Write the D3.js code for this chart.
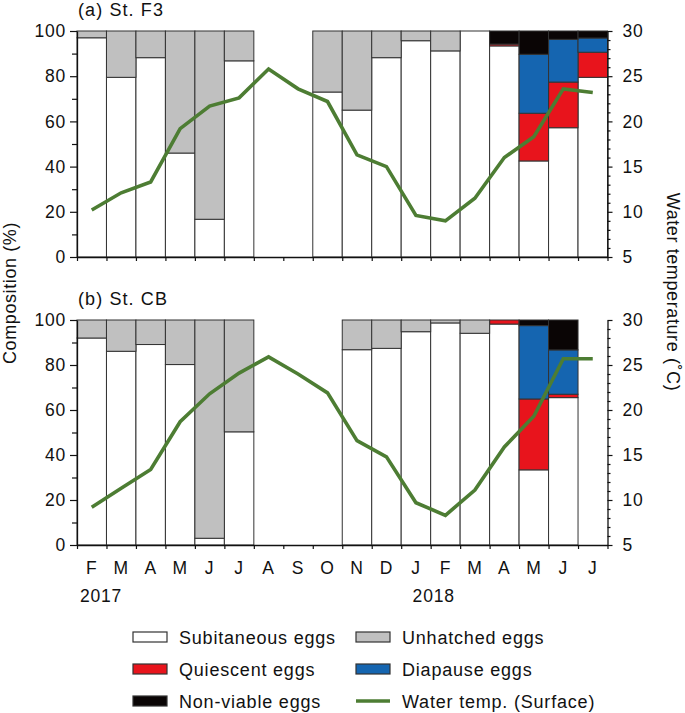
<!DOCTYPE html>
<html>
<head>
<meta charset="utf-8">
<script src="https://cdn.jsdelivr.net/npm/d3@7"></script>
<style>
  html, body { margin: 0; padding: 0; background: #fff; }
  svg text { font-family: "Liberation Sans", Arial, Helvetica, sans-serif; fill: #111; }
</style>
</head>
<body>
<svg id="chart" width="685" height="713"></svg>
<script>
// ---------- data ----------
const months = ["F","M","A","M","J","J","A","S","O","N","D","J","F","M","A","M","J","J"];
const years = ["2017", "2018"];
const seriesKeys = ["subitaneous", "quiescent", "diapause", "nonviable", "unhatched"];
const seriesNames = {
  subitaneous: "Subitaneous eggs", unhatched: "Unhatched eggs",
  quiescent: "Quiescent eggs", diapause: "Diapause eggs",
  nonviable: "Non-viable eggs"
};
const panelTitles = ["(a) St. F3", "(b) St. CB"];

// (a) St. F3  (null = no sample)
const f3Subitaneous = [97.0, 79.5, 88.2, 46.0, 16.7, 86.8, null, null, 73.0, 65.0, 88.2, 95.7, 91.2, 100, 93.4, 42.5, 57.2, 79.5];
const f3Quiescent   = [0, 0, 0, 0, 0, 0, null, null, 0, 0, 0, 0, 0, 0, 0.8, 21.1, 20.2, 11.1];
const f3Diapause    = [0, 0, 0, 0, 0, 0, null, null, 0, 0, 0, 0, 0, 0, 0, 26.1, 18.9, 6.3];
const f3NonViable   = [0, 0, 0, 0, 0, 0, null, null, 0, 0, 0, 0, 0, 0, 5.8, 10.3, 3.7, 3.1];
const f3Unhatched   = [3.0, 20.5, 11.8, 54.0, 83.3, 13.2, null, null, 27.0, 35.0, 11.8, 4.3, 8.8, 0, 0, 0, 0, 0];
const f3Temp = [10.2, 12.1, 13.3, 19.2, 21.7, 22.6, 25.8, 23.6, 22.2, 16.3, 15.0, 9.6, 9.0, 11.5, 16.0, 18.3, 23.6, 23.2];

// (b) St. CB
const cbSubitaneous = [92.0, 86.1, 89.1, 80.2, 3.0, 50.3, null, null, null, 86.8, 87.4, 94.8, 98.7, 94.1, 98.2, 33.4, 65.5, null];
const cbQuiescent   = [0, 0, 0, 0, 0, 0, null, null, null, 0, 0, 0, 0, 0, 1.8, 31.5, 1.5, null];
const cbDiapause    = [0, 0, 0, 0, 0, 0, null, null, null, 0, 0, 0, 0, 0, 0, 32.6, 19.7, null];
const cbNonViable   = [0, 0, 0, 0, 0, 0, null, null, null, 0, 0, 0, 0, 0, 0, 2.5, 13.3, null];
const cbUnhatched   = [8.0, 13.9, 10.9, 19.8, 97.0, 49.7, null, null, null, 13.2, 12.6, 5.2, 1.3, 5.9, 0, 0, 0, null];
const cbTemp = [9.2, 11.3, 13.4, 18.7, 21.8, 24.1, 25.9, 24.0, 21.9, 16.6, 14.8, 9.7, 8.3, 11.1, 15.9, 19.3, 25.7, 25.7];

const pctTicks = [0, 20, 40, 60, 80, 100];
const tempTicks = [5, 10, 15, 20, 25, 30];

// ---------- styles ----------
const colors = {
  subitaneous: "#ffffff", unhatched: "#c0c0c0", quiescent: "#e8141c",
  diapause: "#1565b0", nonviable: "#0a0505"
};
const lineColor = "#4d7d33";
const FONT = 17.5, LS = "0.8px";

const svg = d3.select("#chart");
const left = 77, right = 607.5;

const x = d3.scaleBand().domain(d3.range(months.length)).range([left, right]).padding(0);
const xEdge = d3.scaleLinear().domain([0, months.length]).range([left, right]);

function buildRows(sub, qui, dia, nv, unh) {
  return months.map((m, i) => ({
    i, present: sub[i] !== null,
    subitaneous: sub[i] || 0, quiescent: qui[i] || 0, diapause: dia[i] || 0,
    nonviable: nv[i] || 0, unhatched: unh[i] || 0
  }));
}

const panels = [
  { title: panelTitles[0], top: 31, bottom: 257,
    rows: buildRows(f3Subitaneous, f3Quiescent, f3Diapause, f3NonViable, f3Unhatched), temp: f3Temp, labels: false },
  { title: panelTitles[1], top: 320, bottom: 545,
    rows: buildRows(cbSubitaneous, cbQuiescent, cbDiapause, cbNonViable, cbUnhatched), temp: cbTemp, labels: true }
];

panels.forEach(p => {
  const y = d3.scaleLinear().domain([0, 100]).range([p.bottom, p.top]);
  const t = d3.scaleLinear().domain([5, 30]).range([p.bottom, p.top]);
  const g = svg.append("g");

  // bars
  const stacked = d3.stack().keys(seriesKeys)(p.rows.filter(r => r.present));
  stacked.forEach(layer => {
    g.append("g").selectAll("rect")
      .data(layer.filter(d => d[1] - d[0] > 0))
      .join("rect")
      .attr("x", d => x(d.data.i))
      .attr("width", x.bandwidth())
      .attr("y", d => y(d[1]))
      .attr("height", d => y(d[0]) - y(d[1]))
      .attr("fill", colors[layer.key])
      .attr("stroke", "#333")
      .attr("stroke-width", 1);
  });

  // left axis
  g.append("g").attr("transform", `translate(${left},0)`)
    .call(d3.axisLeft(y).tickValues(pctTicks).tickSize(7).tickSizeOuter(0).tickPadding(4));
  g.append("g").attr("transform", `translate(${left},0)`)
    .call(d3.axisLeft(y).tickValues(d3.range(10, 100, 20)).tickSize(5).tickFormat("").tickSizeOuter(0))
    .select(".domain").remove();

  // right axis
  g.append("g").attr("transform", `translate(${right},0)`)
    .call(d3.axisRight(t).tickValues(tempTicks).tickSize(5).tickSizeOuter(0).tickPadding(10));
  g.append("g").attr("transform", `translate(${right},0)`)
    .call(d3.axisRight(t).tickValues(d3.range(5, 31, 1).filter(v => v % 5 !== 0)).tickSize(3).tickFormat("").tickSizeOuter(0))
    .select(".domain").remove();

  // bottom axis (ticks at month boundaries)
  g.append("g").attr("transform", `translate(0,${p.bottom})`)
    .call(d3.axisBottom(xEdge).tickValues(d3.range(0, months.length + 1)).tickSize(4).tickFormat("").tickSizeOuter(0));

  g.selectAll(".domain").attr("stroke", "#111").attr("stroke-width", 1.3);
  g.selectAll(".tick line").attr("stroke", "#111").attr("stroke-width", 1.2);
  g.selectAll(".tick text").attr("font-size", FONT).style("letter-spacing", LS)
    .attr("font-family", "Liberation Sans, Arial, sans-serif").attr("fill", "#111");

  // temperature line
  g.append("path")
    .datum(p.temp)
    .attr("fill", "none")
    .attr("stroke", lineColor)
    .attr("stroke-width", 3.6)
    .attr("stroke-linejoin", "miter")
    .attr("d", d3.line().x((d, i) => x(i) + x.bandwidth() / 2).y(d => t(d)));

  // panel title
  g.append("text").attr("x", 78).attr("y", p.top - 15)
    .attr("font-size", 18).style("letter-spacing", "1.1px").text(p.title);

  if (p.labels) {
    g.append("g").attr("transform", `translate(0,${p.bottom})`)
      .call(d3.axisBottom(x).tickSize(0).tickPadding(17).tickFormat(i => months[i]))
      .call(a => a.select(".domain").remove())
      .selectAll("text").attr("font-size", FONT).style("letter-spacing", LS)
      .attr("font-family", "Liberation Sans, Arial, sans-serif").attr("fill", "#111");
    g.append("text").attr("x", xEdge(0) + 3).attr("y", p.bottom + 57)
      .attr("font-size", FONT).style("letter-spacing", LS).text(years[0]);
    g.append("text").attr("x", xEdge(12) + 3).attr("y", p.bottom + 57)
      .attr("text-anchor", "middle")
      .attr("font-size", FONT).style("letter-spacing", LS).text(years[1]);
  }
});

// axis titles
svg.append("text")
  .attr("transform", "translate(16,293) rotate(-90)")
  .attr("text-anchor", "middle")
  .attr("font-size", 18).style("letter-spacing", "0.6px")
  .text("Composition (%)");
svg.append("text")
  .attr("transform", "translate(667,292) rotate(90)")
  .attr("text-anchor", "middle")
  .attr("font-size", 18).style("letter-spacing", "0.6px")
  .text("Water temperature (˚C)");

// legend
const legendItems = [
  { key: "subitaneous", type: "rect" }, { key: "unhatched", type: "rect" },
  { key: "quiescent", type: "rect" }, { key: "diapause", type: "rect" },
  { key: "nonviable", type: "rect" }, { key: "temp", type: "line" }
];
const legendX = [133, 356], legendY = [637, 669, 701];
const lg = svg.append("g");
legendItems.forEach((it, k) => {
  const cx = legendX[k % 2], cy = legendY[Math.floor(k / 2)];
  if (it.type === "rect") {
    lg.append("rect").attr("x", cx).attr("y", cy - 5).attr("width", 34).attr("height", 10)
      .attr("fill", colors[it.key]).attr("stroke", "#333").attr("stroke-width", 1.2);
  } else {
    lg.append("line").attr("x1", cx).attr("x2", cx + 34).attr("y1", cy).attr("y2", cy)
      .attr("stroke", lineColor).attr("stroke-width", 3.6);
  }
  lg.append("text").attr("x", cx + 46).attr("y", cy + 6.5)
    .attr("font-size", 18).style("letter-spacing", "0.8px")
    .text(it.type === "rect" ? seriesNames[it.key] : "Water temp. (Surface)");
});
</script>
</body>
</html>
